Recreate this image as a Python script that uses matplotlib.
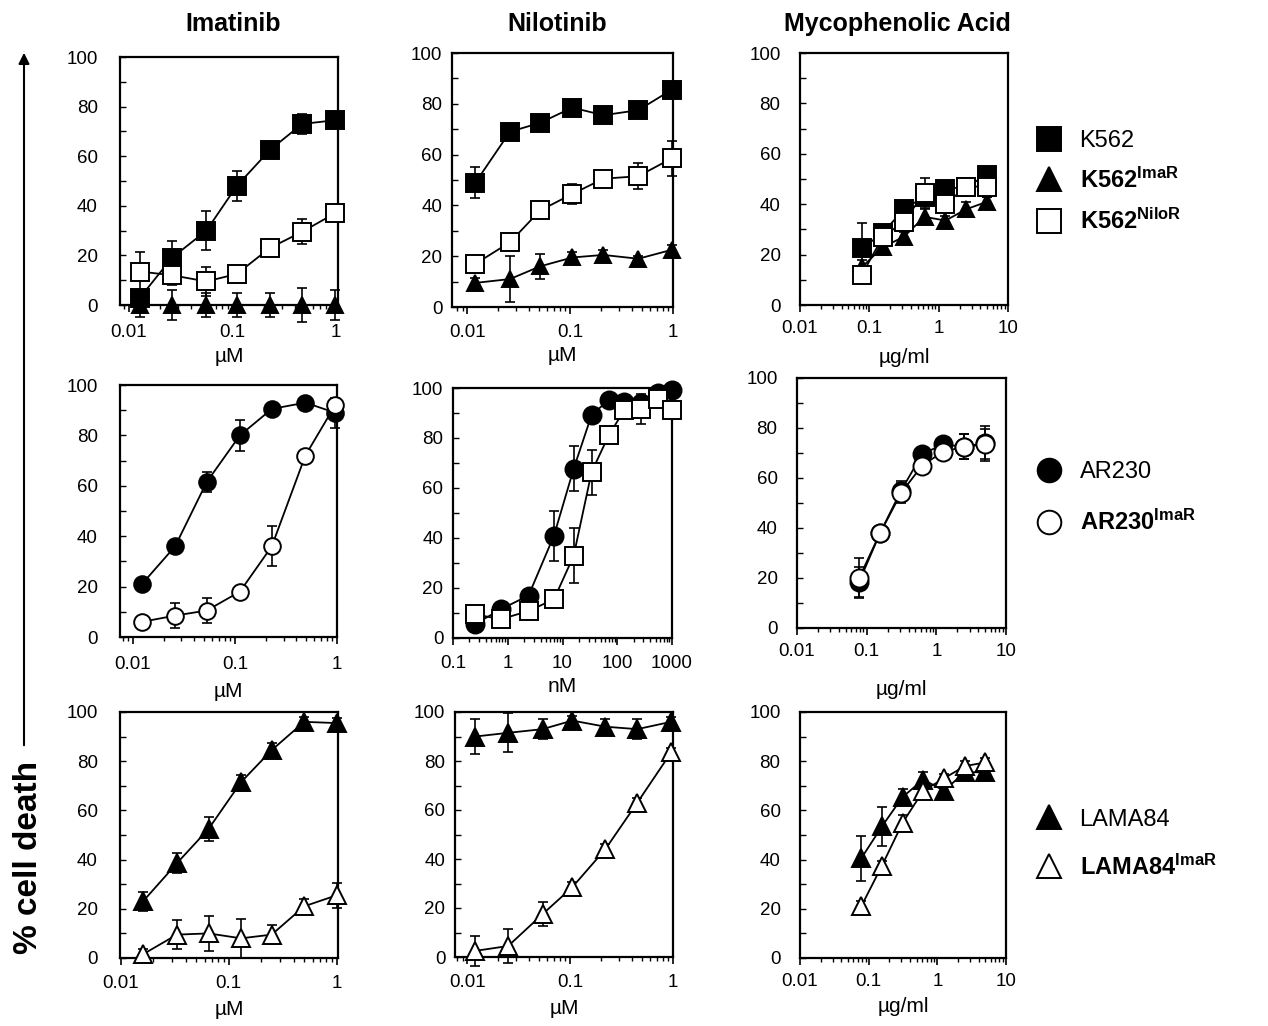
import matplotlib
matplotlib.use("Agg")
import matplotlib.pyplot as plt
from matplotlib.lines import Line2D
from matplotlib.patches import FancyArrowPatch
from matplotlib.ticker import LogLocator, NullFormatter, MultipleLocator, FuncFormatter

plt.rcParams['font.family'] = ['Liberation Sans', 'DejaVu Sans']
plt.rcParams['mathtext.fontset'] = 'custom'
plt.rcParams['mathtext.rm'] = 'Liberation Sans'
plt.rcParams['mathtext.bf'] = 'Liberation Sans:bold'
plt.rcParams['mathtext.it'] = 'Liberation Sans:italic'

# ---------------- data ----------------
drug_titles = ["Imatinib", "Nilotinib", "Mycophenolic Acid"]

# Row 1: K562 lines
r1_ima_x = [0.0128, 0.026, 0.056, 0.11, 0.23, 0.47, 0.98]
r1_ima_k562 = [3, 19, 30, 48, 62.5, 73, 74.5]
r1_ima_k562_err = [3, 7, 8, 6, 2, 4, 2]
r1_ima_imar = [0, 0, 0, 0, 0, 0, 0]
r1_ima_imar_err = [5, 6, 5, 5, 5, 7, 6]
r1_ima_nilor = [13.5, 12, 9.5, 12.5, 23, 29.5, 37]
r1_ima_nilor_err = [8, 4, 6, 1, 1, 5, 1]

r1_nil_x = [0.012, 0.026, 0.051, 0.105, 0.21, 0.46, 0.97]
r1_nil_k562 = [49, 69, 72.5, 78.5, 75.5, 77.5, 85.5]
r1_nil_k562_err = [6, 2, 3, 2, 3, 2, 2]
r1_nil_imar = [9.5, 11, 16, 19.5, 20.5, 19, 22.5]
r1_nil_imar_err = [2, 9, 5, 2, 2, 1, 2]
r1_nil_nilor = [17, 25.5, 38, 44.5, 50.5, 51.5, 58.5]
r1_nil_nilor_err = [1, 1, 1, 4, 1, 5, 7]

mpa_x = [0.078, 0.156, 0.3125, 0.625, 1.25, 2.5, 5.0]
r1_mpa_k562 = [22.5, 28.5, 38, 43, 46, 47, 51.5]
r1_mpa_k562_err = [10, 3, 3, 3, 3, 3, 3]
r1_mpa_imar = [15, 23, 27, 35, 33.5, 38, 41]
r1_mpa_imar_err = [3, 3, 2, 3, 2, 3, 2]
r1_mpa_nilor = [12, 27, 33, 44.5, 40, 47, 47]
r1_mpa_nilor_err = [2, 4, 3, 6, 3, 3, 4]

# Row 2: AR230 lines
r2_ima_x = [0.0123, 0.026, 0.053, 0.112, 0.23, 0.49, 0.96]
r2_ima_ar230 = [21, 36, 61.5, 80, 90.5, 93, 89]
r2_ima_ar230_err = [1, 2, 4, 6, 2, 2, 6]
r2_ima_imar = [6, 8.5, 10.5, 18, 36, 72, 92]
r2_ima_imar_err = [2, 5, 5, 2, 8, 2, 2]

r2_nil_x = [0.25, 0.75, 2.4, 7, 16, 34, 70, 135, 275, 560, 1000]
r2_nil_ar230 = [5.5, 11.5, 17, 41, 67.7, 89.2, 95.2, 94.5, 94, 97.9, 99.2]
r2_nil_ar230_err = [1, 2, 2, 10, 9, 2, 2, 2, 2, 1, 1]
r2_nil_imar = [9.5, 7.5, 10.8, 15.5, 32.9, 66.4, 81.1, 91.2, 91.8, 95.8, 91.2]
r2_nil_imar_err = [2, 2, 2, 3, 11, 9, 3, 2, 6, 2, 2]

r2_mpa_ar230 = [18.5, 38, 55, 69.5, 73.5, 72.5, 74]
r2_mpa_ar230_err = [6, 3, 4, 3, 2, 5, 7]
r2_mpa_imar = [20, 38, 54, 65, 70.5, 72.5, 73.5]
r2_mpa_imar_err = [8, 3, 4, 3, 3, 5, 6]

# Row 3: LAMA84 lines
r3_ima_x = [0.016, 0.033, 0.065, 0.13, 0.25, 0.5, 1.0]
r3_ima_lama = [23, 38.5, 52.5, 71.5, 84.5, 96, 95.5]
r3_ima_lama_err = [4, 4, 5, 3, 3, 2, 2]
r3_ima_imar = [1.5, 9.5, 10, 8, 9.5, 21, 25.5]
r3_ima_imar_err = [2, 6, 7, 8, 4, 3, 5]

r3_nil_x = [0.012, 0.025, 0.054, 0.105, 0.22, 0.45, 0.96]
r3_nil_lama = [90, 91.5, 93, 96.5, 94, 93, 96]
r3_nil_lama_err = [7, 8, 4, 2, 3, 4, 2]
r3_nil_imar = [2.5, 4.5, 17.5, 28.5, 44, 63, 83.5]
r3_nil_imar_err = [6, 7, 5, 2, 2, 2, 2]

r3_mpa_lama = [40.5, 53.5, 65.5, 72.5, 68, 75.5, 75.5]
r3_mpa_lama_err = [9, 8, 3, 3, 3, 2, 2]
r3_mpa_imar = [21, 37.5, 55, 68, 73, 78, 79.5]
r3_mpa_imar_err = [2, 2, 3, 3, 2, 2, 2]

y_ticks = [0, 20, 40, 60, 80, 100]
um_ticks = [0.01, 0.1, 1]
nm_ticks = [0.1, 1, 10, 100, 1000]
mpa_ticks = [0.01, 0.1, 1, 10]

legend1_labels = ["K562", r"K562$^{\mathbf{ImaR}}$", r"K562$^{\mathbf{NiloR}}$"]
legend2_labels = ["AR230", r"AR230$^{\mathbf{ImaR}}$"]
legend3_labels = ["LAMA84", r"LAMA84$^{\mathbf{ImaR}}$"]

# ---------------- figure ----------------
W, H = 1268, 1026
fig = plt.figure(figsize=(W / 100, H / 100), dpi=100)


def px_axes(l, r, t, b):
    return fig.add_axes([l / W, 1 - b / H, (r - l) / W, (b - t) / H])


def style(ax, xlim, xticks, xlabel, ypad, xlabelpad, xpad=6):
    ax.set_xscale('log')
    ax.set_xlim(*xlim)
    ax.set_ylim(0, 100)
    ax.set_xticks(xticks)
    ax.xaxis.set_major_formatter(FuncFormatter(lambda v, p: f"{v:g}"))
    ax.xaxis.set_minor_locator(LogLocator(base=10, subs=range(2, 10)))
    ax.xaxis.set_minor_formatter(NullFormatter())
    ax.set_yticks(y_ticks)
    ax.yaxis.set_minor_locator(MultipleLocator(10))
    ax.tick_params(axis='y', which='both', direction='in', length=4, width=1,
                   pad=ypad, labelsize=13.5)
    ax.tick_params(axis='x', which='major', direction='out', length=5,
                   width=1.2, pad=xpad, labelsize=13.5)
    ax.tick_params(axis='x', which='minor', direction='out', length=3, width=1)
    for s in ax.spines.values():
        s.set_linewidth(1.6)
    ax.set_xlabel(xlabel, fontsize=15, labelpad=xlabelpad)


def series(ax, x, y, e, marker, filled, ms):
    ax.errorbar(x, y, yerr=e, fmt='none', ecolor='black', elinewidth=1.2,
                capsize=3.5, capthick=1.2, clip_on=False, zorder=2)
    ax.plot(x, y, color='black', lw=1.3, marker=marker, ms=ms,
            mfc='black' if filled else 'white', mec='black', mew=1.4,
            clip_on=False, zorder=3)


# Row 1
ax = px_axes(120, 338, 57, 305)
style(ax, (0.0082, 1.045), um_ticks, "µM", 16, 4, 9)
series(ax, r1_ima_x, r1_ima_imar, r1_ima_imar_err, '^', True, 12)
series(ax, r1_ima_x, r1_ima_k562, r1_ima_k562_err, 's', True, 13.5)
series(ax, r1_ima_x, r1_ima_nilor, r1_ima_nilor_err, 's', False, 13.5)

ax = px_axes(452, 673, 53, 307)
style(ax, (0.0071, 1.0), um_ticks, "µM", 7, 4, 7)
series(ax, r1_nil_x, r1_nil_imar, r1_nil_imar_err, '^', True, 12)
series(ax, r1_nil_x, r1_nil_k562, r1_nil_k562_err, 's', True, 13.5)
series(ax, r1_nil_x, r1_nil_nilor, r1_nil_nilor_err, 's', False, 13.5)

ax = px_axes(800, 1008, 53, 305)
style(ax, (0.01, 10), mpa_ticks, "µg/ml", 14, 8, 6)
series(ax, mpa_x, r1_mpa_imar, r1_mpa_imar_err, '^', True, 12)
series(ax, mpa_x, r1_mpa_k562, r1_mpa_k562_err, 's', True, 13)
series(ax, mpa_x, r1_mpa_nilor, r1_mpa_nilor_err, 's', False, 13)

# Row 2
ax = px_axes(120, 337, 385, 637)
style(ax, (0.0075, 1.0), um_ticks, "µM", 16, 6, 9)
series(ax, r2_ima_x, r2_ima_ar230, r2_ima_ar230_err, 'o', True, 12)
series(ax, r2_ima_x, r2_ima_imar, r2_ima_imar_err, 'o', False, 12)

ax = px_axes(453, 672, 388, 638)
style(ax, (0.1, 1000), nm_ticks, "nM", 7, 4, 7)
series(ax, r2_nil_x, r2_nil_ar230, r2_nil_ar230_err, 'o', True, 13)
series(ax, r2_nil_x, r2_nil_imar, r2_nil_imar_err, 's', False, 13.5)

ax = px_axes(797, 1006, 378, 628)
style(ax, (0.01, 10), mpa_ticks, "µg/ml", 14, 14, 6)
series(ax, mpa_x, r2_mpa_ar230, r2_mpa_ar230_err, 'o', True, 13)
series(ax, mpa_x, r2_mpa_imar, r2_mpa_imar_err, 'o', False, 13)

# Row 3
ax = px_axes(120, 338, 712, 958)
style(ax, (0.0098, 1.03), um_ticks, "µM", 16, 6, 7)
series(ax, r3_ima_x, r3_ima_lama, r3_ima_lama_err, '^', True, 13)
series(ax, r3_ima_x, r3_ima_imar, r3_ima_imar_err, '^', False, 13)

ax = px_axes(455, 673, 712, 957)
style(ax, (0.0076, 1.0), um_ticks, "µM", 7, 6, 7)
series(ax, r3_nil_x, r3_nil_lama, r3_nil_lama_err, '^', True, 13)
series(ax, r3_nil_x, r3_nil_imar, r3_nil_imar_err, '^', False, 13)

ax = px_axes(800, 1006, 712, 958)
style(ax, (0.01, 10), mpa_ticks, "µg/ml", 14, 5, 6)
series(ax, mpa_x, r3_mpa_lama, r3_mpa_lama_err, '^', True, 13)
series(ax, mpa_x, r3_mpa_imar, r3_mpa_imar_err, '^', False, 13)

# Column titles
for title, xc in zip(drug_titles, [233, 557, 897]):
    fig.text(xc / W, 1 - 24 / H, title, fontsize=18, fontweight='bold',
             ha='center', va='center')

# Y label + arrow
fig.text(29 / W, 1 - 857 / H, "% cell death", rotation=90, fontsize=24,
         fontweight='bold', ha='center', va='center')
fig.add_artist(FancyArrowPatch((24 / W, 1 - 748 / H), (24 / W, 1 - 50 / H),
                               transform=fig.transFigure, arrowstyle='-|>',
                               mutation_scale=16, lw=1.5, color='black'))


# Legends
def make_legend(labels, markers, fills, ycenter, spacing, bold_idx):
    handles = [Line2D([], [], ls='none', marker=m, ms=17,
                      mfc='black' if f else 'white', mec='black', mew=1.4)
               for m, f in zip(markers, fills)]
    leg = fig.legend(handles, labels, loc='center left',
                     bbox_to_anchor=(1037 / W, 1 - ycenter / H),
                     frameon=False, fontsize=17, handlelength=1.0,
                     handletextpad=0.8, labelspacing=spacing, borderpad=0,
                     borderaxespad=0)
    for i, t in enumerate(leg.get_texts()):
        if i in bold_idx:
            t.set_fontweight('bold')
    return leg


make_legend(legend1_labels, ['s', '^', 's'], [True, True, False], 182, 0.66, [1, 2])
make_legend(legend2_labels, ['o', 'o'], [True, False], 498, 1.15, [1])
make_legend(legend3_labels, ['^', '^'], [True, False], 844, 1.0, [1])

fig.savefig("out.png", dpi=100)
